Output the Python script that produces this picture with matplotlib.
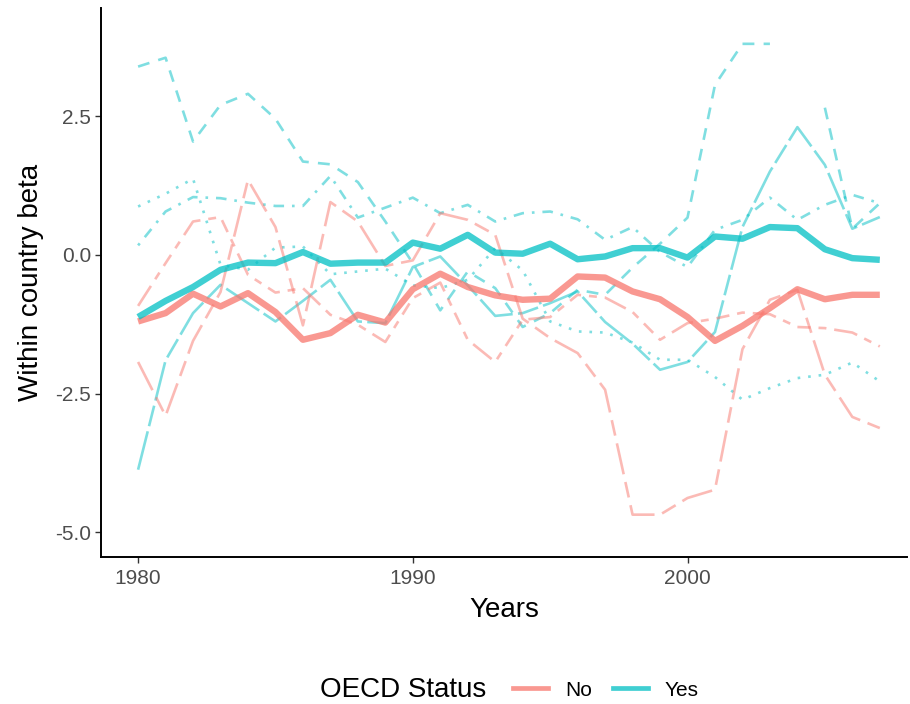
import numpy as np
import matplotlib.pyplot as plt
from matplotlib.lines import Line2D

plt.rcParams['font.family'] = ['Liberation Sans', 'DejaVu Sans']

nan = np.nan
years = np.arange(1980, 2008)

# OECD members (Yes): one thin line per country
yes_dash = [3.39, 3.55, 2.04, 2.70, 2.90, 2.45, 1.68, 1.63, 1.31, 0.60,
            -0.15, -1.00, -0.30, -0.60, -1.30, -1.05, -0.63, -0.72, -0.23, 0.20,
            0.67, 3.06, 3.80, 3.80, nan, 2.65, 0.47, 0.93]
yes_dotdash = [0.17, 0.78, 1.04, 1.02, 0.94, 0.88, 0.88, 1.42, 0.67, 0.85,
               1.03, 0.75, 0.90, 0.60, 0.75, 0.78, 0.64, 0.27, 0.50, 0.05,
               -0.22, 0.45, 0.63, 1.03, 0.63, 0.90, 1.08, 0.93]
yes_dotted = [0.87, 1.10, 1.37, -0.18, -0.27, 0.13, 0.15, -0.35, -0.30, -0.25,
              -0.55, -0.60, -0.45, 0.12, -0.28, -1.20, -1.38, -1.40, -1.58, -1.89,
              -1.89, -2.20, -2.61, -2.40, -2.22, -2.16, -1.94, -2.28]
yes_long = [-3.87, -1.90, -1.05, -0.54, -0.87, -1.20, -0.83, -0.45, -1.20, -1.23,
            -0.22, -0.03, -0.55, -1.10, -1.05, -0.87, -0.66, -1.21, -1.60, -2.07,
            -1.93, -1.39, 0.50, 1.50, 2.30, 1.62, 0.47, 0.68]
yes_mean = [-1.12, -0.83, -0.58, -0.27, -0.14, -0.15, 0.05, -0.16, -0.14, -0.14,
            0.22, 0.11, 0.36, 0.04, 0.02, 0.20, -0.08, -0.03, 0.12, 0.12,
            -0.05, 0.33, 0.29, 0.50, 0.48, 0.10, -0.06, -0.09]

# non-members (No)
no_long = [-1.93, -2.90, -1.55, -0.67, 1.35, 0.50, -1.27, 0.95, 0.60, -0.20,
           -0.10, 0.75, 0.63, 0.36, -1.15, -1.50, -1.77, -2.43, -4.68, -4.68,
           -4.38, -4.23, -1.70, -0.81, -0.63, -2.16, -2.92, -3.12]
no_twodash = [-0.92, -0.15, 0.60, 0.68, -0.36, -0.68, -0.60, -1.08, -1.26, -1.57,
              -0.78, -0.50, -1.53, -1.93, -1.17, -1.12, -0.72, -0.77, -1.03, -1.53,
              -1.23, -1.15, -1.04, -1.07, -1.30, -1.32, -1.40, -1.65]
no_mean = [-1.20, -1.05, -0.70, -0.93, -0.69, -1.03, -1.53, -1.41, -1.08, -1.22,
           -0.62, -0.34, -0.58, -0.73, -0.81, -0.79, -0.39, -0.41, -0.66, -0.80,
           -1.12, -1.55, -1.28, -0.96, -0.62, -0.80, -0.72, -0.72]

red = '#F8766D'
teal = '#00BFC4'

fig = plt.figure(figsize=(9.1, 7.04), dpi=100)
ax = fig.add_axes([0.111, 0.209, 0.886, 0.78])

thin = 1.9
ax.plot(years, yes_dash, color=teal, alpha=0.5, lw=thin, dashes=(4.5, 3.5))
ax.plot(years, yes_dotdash, color=teal, alpha=0.5, lw=thin, dashes=(1, 3, 4, 3))
ax.plot(years, yes_dotted, color=teal, alpha=0.5, lw=thin, dashes=(1, 3))
ax.plot(years, yes_long, color=teal, alpha=0.5, lw=thin, dashes=(15, 2, 8, 2))
ax.plot(years, no_long, color=red, alpha=0.5, lw=thin, dashes=(12, 3, 6, 3))
ax.plot(years, no_twodash, color=red, alpha=0.5, lw=thin, dashes=(9, 3, 3, 3, 5, 3, 3, 3))

ax.plot(years, no_mean, color=red, alpha=0.75, lw=4.6, solid_capstyle='butt')
ax.plot(years, yes_mean, color=teal, alpha=0.75, lw=4.6, solid_capstyle='butt')

ax.set_xlim(1978.65, 2008.0)
ax.set_ylim(-5.44, 4.45)
ax.set_xticks([1980, 1990, 2000])
ax.set_yticks([-5.0, -2.5, 0.0, 2.5])
ax.set_yticklabels(['-5.0', '-2.5', '0.0', '2.5'])

for s in ['top', 'right']:
    ax.spines[s].set_visible(False)
for s in ['left', 'bottom']:
    ax.spines[s].set_linewidth(1.4)
    ax.spines[s].set_color('black')
ax.tick_params(axis='both', length=4, width=1.0, color='#333333',
               labelsize=15, labelcolor='#4D4D4D', pad=3)
ax.tick_params(axis='x', pad=5)

ax.set_xlabel('Years', fontsize=20, labelpad=6)
ax.set_ylabel('Within country beta', fontsize=20, labelpad=8)

# legend across the bottom
fig.text(320 / 910, 1 - 690 / 704, 'OECD Status', fontsize=20,
         ha='left', va='center')
handles = [Line2D([], [], color=red, alpha=0.75, lw=3.4),
           Line2D([], [], color=teal, alpha=0.75, lw=3.4)]
fig.legend(handles, ['No', 'Yes'], loc='center left',
           bbox_to_anchor=(494 / 910, 1 - 690 / 704), ncol=2, frameon=False,
           fontsize=15, handlelength=1.7, handletextpad=0.8, columnspacing=1.0)

fig.savefig('out.png', dpi=100, facecolor='white')
plt.close(fig)
